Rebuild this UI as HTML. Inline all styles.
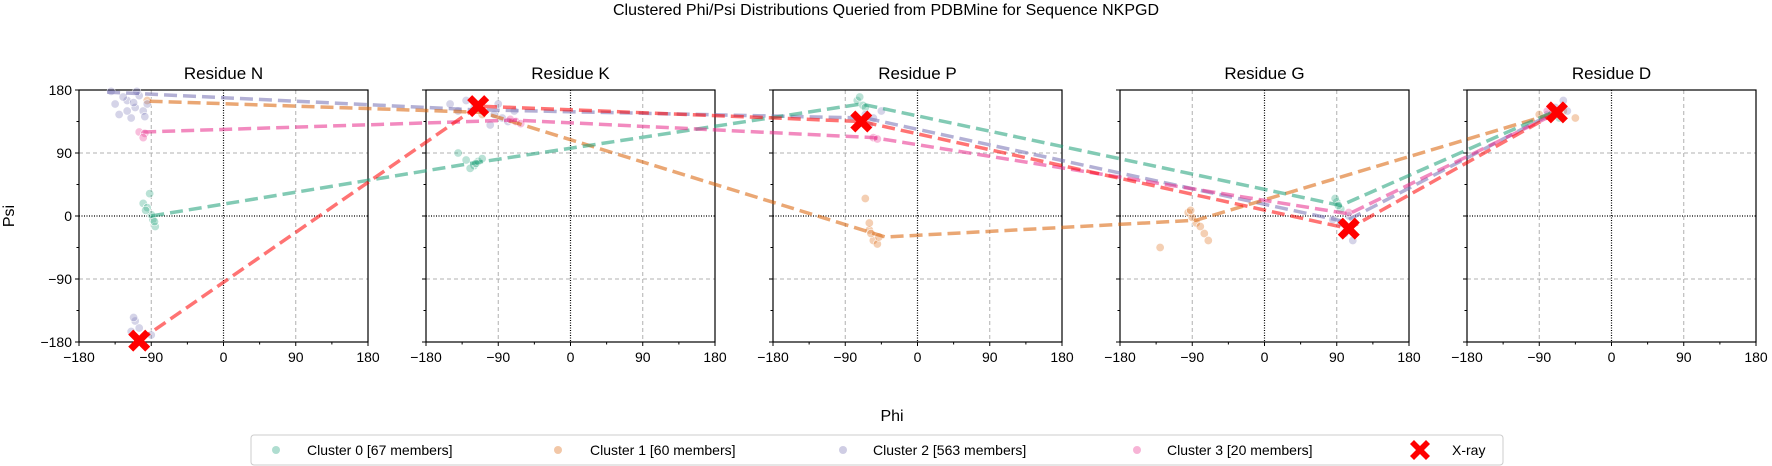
<!DOCTYPE html>
<html><head><meta charset="utf-8"><style>
html,body{margin:0;padding:0;background:#fff;}
svg{display:block;font-family:"Liberation Sans","DejaVu Sans",sans-serif;}
</style></head><body>
<svg id="fig" width="1772" height="466" viewBox="0 0 1772 466">
<text x="886" y="15" text-anchor="middle" font-size="16">Clustered Phi/Psi Distributions Queried from PDBMine for Sequence NKPGD</text>
<text x="892" y="421" text-anchor="middle" font-size="16">Phi</text>
<text transform="translate(14,216) rotate(-90)" text-anchor="middle" font-size="16">Psi</text>
<g id="panels"></g>
<g id="lines"></g>
<g id="legend">
<rect x="251" y="435" width="1252" height="30" rx="3" fill="#fff" stroke="#ccc"/>
<g><circle cx="276" cy="450" r="4" fill="#1b9e77" fill-opacity="0.35"/><text x="307" y="455" font-size="14">Cluster 0 [67 members]</text></g>
<g><circle cx="558" cy="450" r="4" fill="#d95f02" fill-opacity="0.35"/><text x="590" y="455" font-size="14">Cluster 1 [60 members]</text></g>
<g><circle cx="843" cy="450" r="4" fill="#7570b3" fill-opacity="0.35"/><text x="873" y="455" font-size="14">Cluster 2 [563 members]</text></g>
<g><circle cx="1137" cy="450" r="4" fill="#e7298a" fill-opacity="0.35"/><text x="1167" y="455" font-size="14">Cluster 3 [20 members]</text></g>
<g><path d="M1414,440 L1420,446 L1426,440 L1430,444 L1424,450 L1430,456 L1426,460 L1420,454 L1414,460 L1410,456 L1416,450 L1410,444 Z" fill="red"/><text x="1452" y="455" font-size="14">X-ray</text></g>
</g>
</svg>
<script>
const residues = ["N","K","P","G","D"];
const xTicks = [-180,-90,0,90,180];
const yTicks = [180,90,0,-90,-180];
const clusterColors = ["#1b9e77","#d95f02","#7570b3","#e7298a"];
// centroid phi/psi per cluster per residue
const c0Phi = [-90,-125,-70,95,-70];   const c0Psi = [0,75,160,15,150];
const c1Phi = [-92,-110,-40,-85,-62];  const c1Psi = [164,148,-30,-6,150];
const c2Phi = [-145,-125,-65,100,-68]; const c2Psi = [177,152,140,-8,150];
const c3Phi = [-100,-70,-55,105,-70];  const c3Psi = [120,137,112,3,146];
const xrayPhi = [-105,-115,-70,105,-68];
const xrayPsi = [-178,157,135,-18,148];
// scatter members: [residueIndex, phi, psi]
const c0Pts = [[0,-100,18],[0,-95,12],[0,-92,32],[0,-88,-5],[0,-85,-15],[0,-90,2],[0,-97,8],[0,-86,-8],[1,-130,80],[1,-120,72],[1,-115,78],[1,-140,90],[1,-125,68],[1,-118,75],[1,-110,82],[2,-75,165],[2,-68,158],[2,-72,170],[2,-65,155],[3,90,20],[3,95,10],[3,88,25],[3,92,15],[4,-70,150],[4,-65,140]];
const c1Pts = [[0,-95,165],[1,-110,145],[2,-60,-20],[2,-55,-35],[2,-50,-40],[2,-65,25],[2,-60,-10],[2,-48,-30],[2,-58,-25],[3,-95,5],[3,-85,-10],[3,-75,-25],[3,-70,-35],[3,-130,-45],[3,-90,-2],[3,-92,8],[3,-80,-15],[4,-60,150],[4,-45,140],[4,-90,145]];
const c2Pts = [[0,-140,178],[0,-120,165],[0,-110,155],[0,-100,150],[0,-115,140],[0,-125,170],[0,-105,172],[0,-95,160],[0,-130,145],[0,-112,162],[0,-98,142],[0,-120,150],[0,-108,178],[0,-135,160],[0,-110,-150],[0,-105,-160],[0,-115,-165],[0,-90,-170],[0,-112,-145],[1,-150,160],[1,-130,165],[1,-110,150],[1,-95,145],[1,-85,140],[1,-70,150],[1,-100,130],[1,-120,155],[1,-90,160],[1,-140,150],[1,-78,135],[2,-65,145],[2,-60,130],[2,-55,140],[2,-45,150],[3,95,-10],[3,100,-25],[3,110,-35],[3,85,-5],[3,105,0],[4,-70,155],[4,-55,150],[4,-80,145],[4,-60,165]];
const c3Pts = [[0,-105,120],[0,-98,118],[0,-100,112],[1,-75,138],[1,-68,135],[1,-62,132],[2,-55,112],[2,-50,110],[3,105,5],[4,-75,145],[4,-80,150]];

const L = [79,426,773,1120,1467], W = 289, T = 90, H = 252;
const NS = "http://www.w3.org/2000/svg";
function X(i,phi){return L[i]+(phi+180)/360*W;}
function Y(psi){return T+H-(psi+180)/360*H;}
function mk(tag,attrs,parent){const e=document.createElementNS(NS,tag);for(const k in attrs)e.setAttribute(k,attrs[k]);parent.appendChild(e);return e;}

const panels = document.getElementById("panels");
residues.forEach((r,i)=>{
  const g = mk("g",{},panels);
  
  
  const t = mk("text",{x:L[i]+W/2,y:79,"text-anchor":"middle","font-size":"17"},g);
  t.textContent = "Residue "+r;
  
  
  [-90,90].forEach(v=>{
    mk("line",{x1:X(i,v),x2:X(i,v),y1:T,y2:T+H,stroke:"#b0b0b0","stroke-dasharray":"4,3","stroke-width":1},g);
    mk("line",{x1:L[i],x2:L[i]+W,y1:Y(v),y2:Y(v),stroke:"#b0b0b0","stroke-dasharray":"4,3","stroke-width":1},g);
  });
  mk("line",{x1:X(i,0),x2:X(i,0),y1:T,y2:T+H,stroke:"#000","stroke-dasharray":"1,1.5","stroke-width":1.2},g);
  mk("line",{x1:L[i],x2:L[i]+W,y1:Y(0),y2:Y(0),stroke:"#000","stroke-dasharray":"1,1.5","stroke-width":1.2},g);
  for(let v=-180;v<=180;v+=45){
    const maj = v%90===0;
    mk("line",{x1:X(i,v),x2:X(i,v),y1:T+H,y2:T+H+(maj?4:2.5),stroke:"#000","stroke-width":1},g);
    mk("line",{x1:L[i],x2:L[i]-(maj?4:2.5),y1:Y(v),y2:Y(v),stroke:"#000","stroke-width":1},g);
  }
  xTicks.forEach(v=>{
    const tl = mk("text",{x:X(i,v),y:T+H+20,"text-anchor":"middle","font-size":"14"},g);
    tl.textContent = v<0 ? "\u2212"+(-v) : String(v);
    
    
  });
  if(i===0){
    yTicks.forEach(v=>{
      const tl = mk("text",{x:L[0]-7,y:Y(v)+5,"text-anchor":"end","font-size":"14"},g);
      tl.textContent = v<0 ? "\u2212"+(-v) : String(v);
      
      
    });
  }
  const sp = mk("rect",{x:L[i],y:T,width:W,height:H,fill:"none",stroke:"#000","stroke-width":1.2},g);
  
  
});

const lines = document.getElementById("lines");
const allPts = [c0Pts,c1Pts,c2Pts,c3Pts];
allPts.forEach((pts,c)=>{
  pts.forEach(p=>{
    const cc = mk("circle",{cx:X(p[0],p[1]),cy:Y(p[2]),r:4.2,fill:clusterColors[c],"fill-opacity":0.3,stroke:"#fff","stroke-width":0.6},lines);
    
    
  });
});
const cPhi=[c0Phi,c1Phi,c2Phi,c3Phi], cPsi=[c0Psi,c1Psi,c2Psi,c3Psi];
function path(phis,psis,color,name){
  const d = phis.map((p,i)=>(i?"L":"M")+X(i,p).toFixed(1)+","+Y(psis[i]).toFixed(1)).join(" ");
  const e = mk("path",{d:d,fill:"none",stroke:color,"stroke-opacity":0.55,"stroke-width":3.5,"stroke-dasharray":"13,6"},lines);
  
  
}
[2,1,0,3].forEach(c=>path(cPhi[c],cPsi[c],clusterColors[c],'cluster-'+c+'-path'));
path(xrayPhi,xrayPsi,"#ff0000",'xray-path');
xrayPhi.forEach((p,i)=>{
  const cx=X(i,p), cy=Y(xrayPsi[i]);
  const e = mk("path",{fill:"red"},lines);
  e.setAttribute('d',`M${cx-6},${cy-11} L${cx},${cy-5} L${cx+6},${cy-11} L${cx+11},${cy-6} L${cx+5},${cy} L${cx+11},${cy+6} L${cx+6},${cy+11} L${cx},${cy+5} L${cx-6},${cy+11} L${cx-11},${cy+6} L${cx-5},${cy} L${cx-11},${cy-6} Z`);
  
  
});
</script>
</body></html>
